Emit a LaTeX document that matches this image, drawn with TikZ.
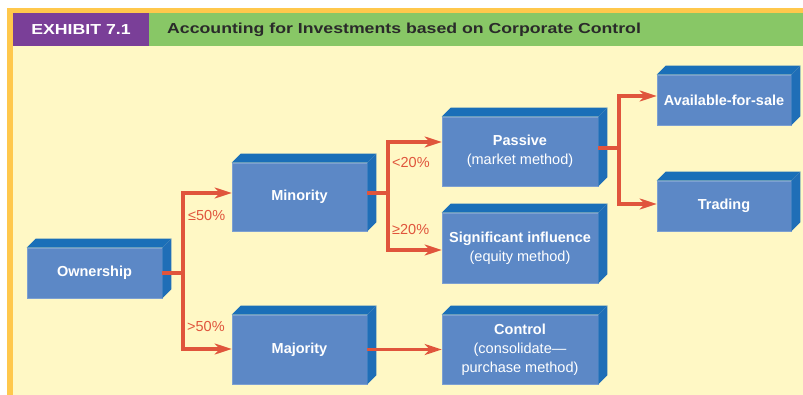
\documentclass[tikz,border=0pt]{standalone}
\usepackage{fontspec}
\setmainfont{Liberation Sans}
\newfontfamily\hdr{Liberation Sans}[FakeStretch=1.22]
\usetikzlibrary{arrows.meta,calc}
\definecolor{cream}{HTML}{FFF8C5}
\definecolor{bord}{HTML}{FFC84C}
\definecolor{purp}{HTML}{7A3F98}
\definecolor{grn}{HTML}{88C766}
\definecolor{frontc}{HTML}{5C88C6}
\definecolor{topc}{HTML}{1A6FB8}
\definecolor{sidec}{HTML}{1F6EB7}
\definecolor{arr}{HTML}{E0553C}
\definecolor{hdrtext}{HTML}{2A2A2A}
\begin{document}
\begin{tikzpicture}[x=1pt,y=-1pt,
  box/.style={fill=frontc, draw=frontc!80!white, line width=0.6pt, inner sep=0pt, align=center,
    text=white, font=\fontsize{14.5}{19}\selectfont},
  conn/.style={draw=arr, line width=3.5pt, line join=miter},
  onetip/.style={-{Stealth[length=17pt,width=11pt,inset=5pt]}},
  twotips/.style={{Stealth[length=17pt,width=11pt,inset=5pt]}-{Stealth[length=17pt,width=11pt,inset=5pt]}},
  lbl/.style={text=arr, inner sep=0pt, anchor=west, font=\fontsize{14.5}{16}\selectfont}
]
\useasboundingbox (0,0) rectangle (803,395);
\fill[white] (0,0) rectangle (803,395);
\fill[bord] (7,8) rectangle (803,395);
\fill[cream] (13,13) rectangle (803,395);
\fill[purp] (13,13) rectangle (149,46);
\fill[grn] (149,13) rectangle (803,46);
\node[text=white, font=\hdr\bfseries\fontsize{14.5}{16}\selectfont, inner sep=0pt] (ex) at (81,30) {EXHIBIT 7.1};
\node[text=hdrtext, font=\hdr\bfseries\fontsize{14.5}{16}\selectfont, inner sep=0pt, anchor=west] (ttl) at (167,30) {Accounting for Investments based on Corporate Control};

% boxes (front faces)
\node[box, minimum width=135pt, minimum height=50pt] (own) at (94.5,273) {\textbf{Ownership}};
\node[box, minimum width=135pt, minimum height=68pt] (min) at (299.5,197) {\textbf{Minority}};
\node[box, minimum width=135pt, minimum height=69pt] (maj) at (299.5,349.5) {\textbf{Majority}};
\node[box, minimum width=156pt, minimum height=69pt] (pas) at (520,151.5) {\textbf{Passive}\\(market method)};
\node[box, minimum width=156pt, minimum height=70pt] (sig) at (520,248) {\textbf{Significant influence}\\(equity method)};
\node[box, minimum width=156pt, minimum height=69pt] (con) at (520,349.5) {\textbf{Control}\\(consolidate—\\purchase method)};
\node[box, minimum width=134pt, minimum height=50pt] (afs) at (724,100) {\textbf{Available-for-sale}};
\node[box, minimum width=134pt, minimum height=50pt] (tra) at (724,206) {\textbf{Trading}};

% 3D faces
\foreach \n in {own,min,maj,pas,sig,con,afs,tra}{
  \fill[topc] (\n.north west) -- ++(9,-9) -- ($(\n.north east)+(9,-9)$) -- (\n.north east) -- cycle;
  \fill[sidec] (\n.north east) -- ++(9,-9) -- ($(\n.south east)+(9,-9)$) -- (\n.south east) -- cycle;
}

% connectors
\coordinate (a0) at (183,273);
\coordinate (a1) at (183,193);
\coordinate (a2) at (183,349);
\draw[conn] (own.east) -- (a0);
\draw[conn,twotips] (min.west |- a1) -- (a1) -- (a2) -- (maj.west |- a2);

\coordinate (b0) at (388,193);
\coordinate (b1) at (388,142);
\coordinate (b2) at (388,250);
\draw[conn] (min.east |- b0) -- (b0);
\draw[conn,twotips] (pas.west |- b1) -- (b1) -- (b2) -- (sig.west |- b2);

\coordinate (c0) at (619,148);
\coordinate (c1) at (619,96);
\coordinate (c2) at (619,204);
\draw[conn] (pas.east |- c0) -- (c0);
\draw[conn,twotips] (afs.west |- c1) -- (c1) -- (c2) -- (tra.west |- c2);

\draw[conn,onetip] (maj.east) -- (con.west);

% labels
\node[lbl] (l1) at (188,216) {≤50\%};
\node[lbl] (l2) at (187,327) {>50\%};
\node[lbl] (l3) at (392,163) {<20\%};
\node[lbl] (l4) at (392,230) {≥20\%};
\end{tikzpicture}
\end{document}
